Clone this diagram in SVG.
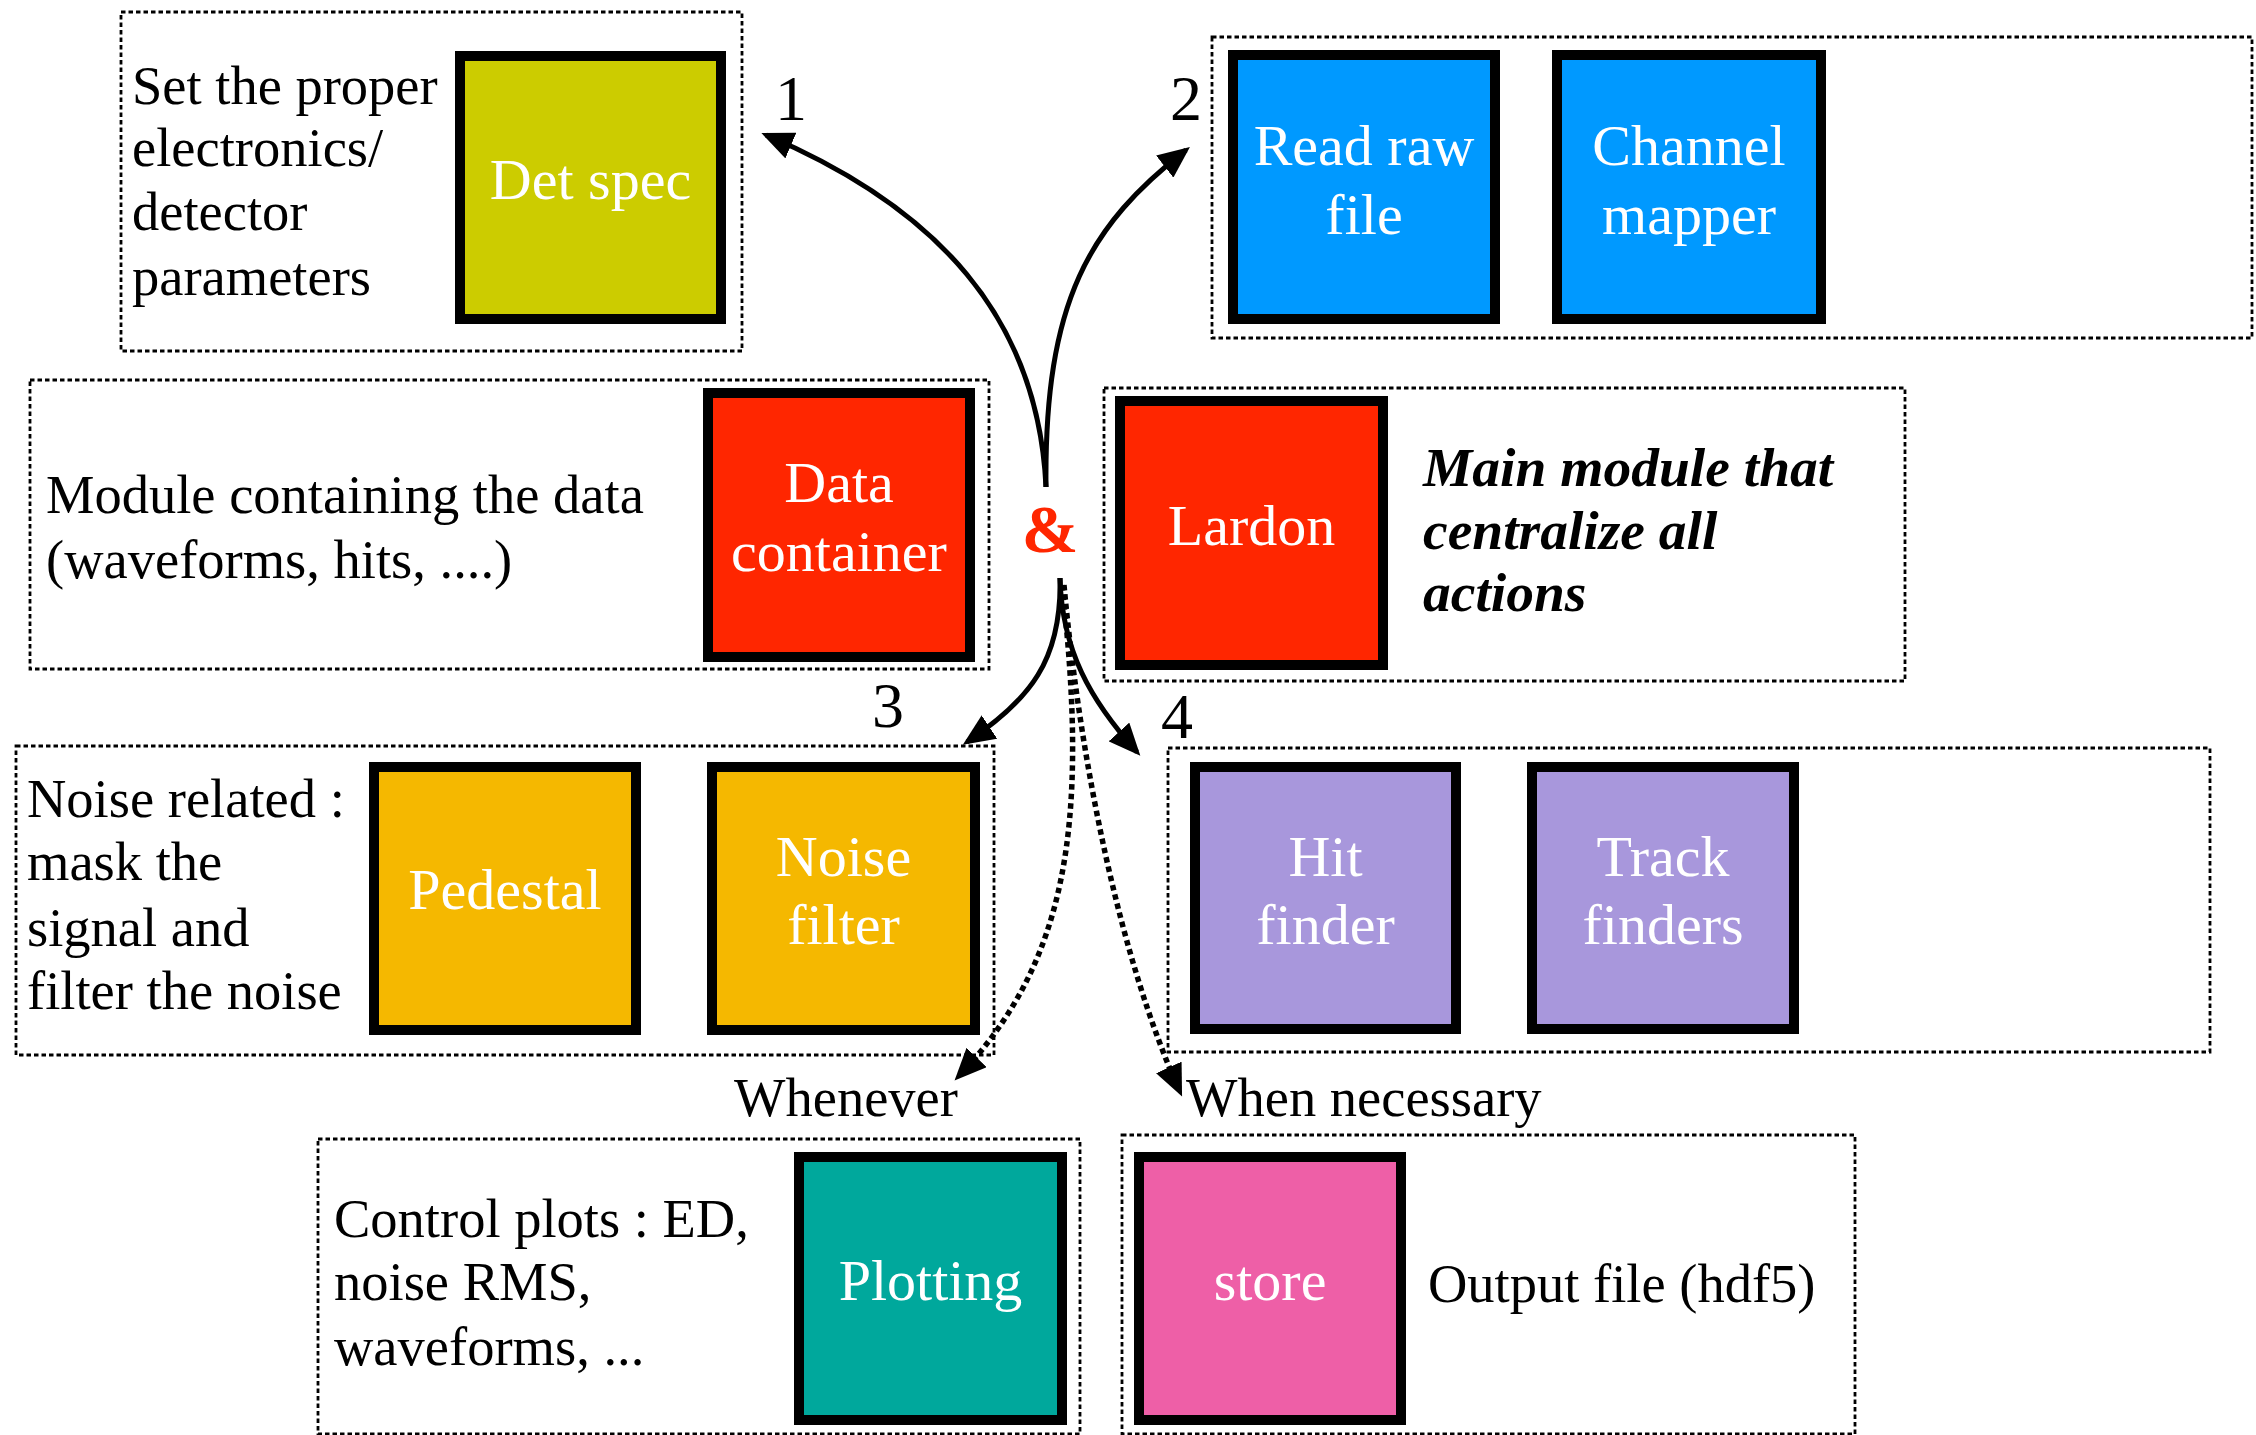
<svg xmlns="http://www.w3.org/2000/svg" width="2256" height="1435" viewBox="0 0 2256 1435">
<style>
.grp{fill:none;stroke:#000;stroke-width:2.8;stroke-dasharray:4.5 3}
.node{stroke:#000;stroke-width:10}
.lbl{font-family:"Liberation Serif",serif;font-size:58px;fill:#fff;text-anchor:middle}
.txt{font-family:"Liberation Serif",serif;font-size:54.5px;fill:#000}
.bi{font-weight:bold;font-style:italic;font-size:55.5px}
.num{font-family:"Liberation Serif",serif;font-size:64px;fill:#000;text-anchor:middle}
.conn{fill:none;stroke:#000;stroke-width:5;marker-end:url(#ah)}
.dot{fill:none;stroke:#000;stroke-width:5.5;stroke-dasharray:5.5 4;marker-end:url(#ah)}
</style>
<defs>
<marker id="ah" markerUnits="userSpaceOnUse" markerWidth="34" markerHeight="28" refX="27" refY="14" orient="auto">
<path d="M0,0 L32,14 L0,28 z" fill="#000"/>
</marker>
</defs>
<rect width="2256" height="1435" fill="#fff"/>

<g id="group-detspec">
<rect class="grp" x="121" y="12" width="621" height="339"/>
<text class="txt" x="132" y="104">Set the proper</text>
<text class="txt" x="132" y="166">electronics/</text>
<text class="txt" x="132" y="230">detector</text>
<text class="txt" x="132" y="295">parameters</text>
</g>
<g id="node-detspec">
<rect class="node" x="460" y="56" width="261" height="263" fill="#CCCC00"/>
<text class="lbl" x="590.5" y="199">Det spec</text>
</g>

<g id="group-reader">
<rect class="grp" x="1212" y="37" width="1040" height="301"/>
</g>
<g id="node-readraw">
<rect class="node" x="1233" y="55" width="262" height="264" fill="#0099FF"/>
<text class="lbl" x="1364" y="165">Read raw</text>
<text class="lbl" x="1364" y="234">file</text>
</g>
<g id="node-channelmapper">
<rect class="node" x="1557" y="55" width="264" height="264" fill="#0099FF"/>
<text class="lbl" x="1689" y="165">Channel</text>
<text class="lbl" x="1689" y="234">mapper</text>
</g>

<g id="group-data">
<rect class="grp" x="30" y="380" width="959" height="289"/>
<text class="txt" x="46" y="513">Module containing the data</text>
<text class="txt" x="46" y="578">(waveforms, hits, ....)</text>
</g>
<g id="node-datacontainer">
<rect class="node" x="708" y="393" width="262" height="264" fill="#FF2600"/>
<text class="lbl" x="839" y="502">Data</text>
<text class="lbl" x="839" y="571">container</text>
</g>

<g id="group-lardon">
<rect class="grp" x="1104" y="388" width="801" height="293"/>
<text class="txt bi" x="1423" y="486">Main module that</text>
<text class="txt bi" x="1423" y="549">centralize all</text>
<text class="txt bi" x="1423" y="611">actions</text>
</g>
<g id="node-lardon">
<rect class="node" x="1120" y="401" width="263" height="264" fill="#FF2600"/>
<text class="lbl" x="1251.5" y="545">Lardon</text>
</g>

<g id="group-noise">
<rect class="grp" x="16" y="746" width="978" height="309"/>
<text class="txt" x="27" y="817">Noise related :</text>
<text class="txt" x="27" y="880">mask the</text>
<text class="txt" x="27" y="946">signal and</text>
<text class="txt" x="27" y="1009">filter the noise</text>
</g>
<g id="node-pedestal">
<rect class="node" x="374" y="767" width="262" height="263" fill="#F5B800"/>
<text class="lbl" x="505" y="909">Pedestal</text>
</g>
<g id="node-noisefilter">
<rect class="node" x="712" y="767" width="263" height="263" fill="#F5B800"/>
<text class="lbl" x="843.5" y="876">Noise</text>
<text class="lbl" x="843.5" y="944">filter</text>
</g>

<g id="group-reco">
<rect class="grp" x="1168" y="748" width="1042" height="304"/>
</g>
<g id="node-hitfinder">
<rect class="node" x="1195" y="767" width="261" height="262" fill="#A897DC"/>
<text class="lbl" x="1325.5" y="876">Hit</text>
<text class="lbl" x="1325.5" y="944">finder</text>
</g>
<g id="node-trackfinders">
<rect class="node" x="1532" y="767" width="262" height="262" fill="#A897DC"/>
<text class="lbl" x="1663" y="876">Track</text>
<text class="lbl" x="1663" y="944">finders</text>
</g>

<g id="group-plot">
<rect class="grp" x="318" y="1139" width="762" height="295"/>
<text class="txt" x="334" y="1237">Control plots : ED,</text>
<text class="txt" x="334" y="1300">noise RMS,</text>
<text class="txt" x="334" y="1365">waveforms, ...</text>
</g>
<g id="node-plotting">
<rect class="node" x="799" y="1157" width="263" height="263" fill="#00A89C"/>
<text class="lbl" x="930.5" y="1300">Plotting</text>
</g>

<g id="group-store">
<rect class="grp" x="1122" y="1135" width="733" height="299"/>
<text class="txt" x="1428" y="1302">Output file (hdf5)</text>
</g>
<g id="node-store">
<rect class="node" x="1139" y="1157" width="262" height="263" fill="#EE5FA7"/>
<text class="lbl" x="1270" y="1300">store</text>
</g>

<g id="hub">
<text x="1050" y="552" font-family="Liberation Serif,serif" font-weight="bold" font-size="68" fill="#FF2600" text-anchor="middle">&amp;</text>
</g>

<g id="connectors">
<path class="conn" d="M1046,487 C1038,317 936,207 766,135"/>
<path class="conn" d="M1046,487 C1044,300 1090,225 1186,150"/>
<path class="conn" d="M1060,578 C1062,660 1030,700 967,742"/>
<path class="conn" d="M1060,578 C1062,650 1090,700 1137,752"/>
<path class="dot" d="M1062,585 C1090,830 1065,965 958,1077"/>
<path class="dot" d="M1064,585 C1080,760 1120,960 1180,1092"/>
</g>

<g id="labels">
<text class="num" x="791" y="120">1</text>
<text class="num" x="1186" y="120">2</text>
<text class="num" x="888" y="727">3</text>
<text class="num" x="1177" y="738">4</text>
<text class="txt" x="734" y="1116">Whenever</text>
<text class="txt" x="1186" y="1116">When necessary</text>
</g>
</svg>
